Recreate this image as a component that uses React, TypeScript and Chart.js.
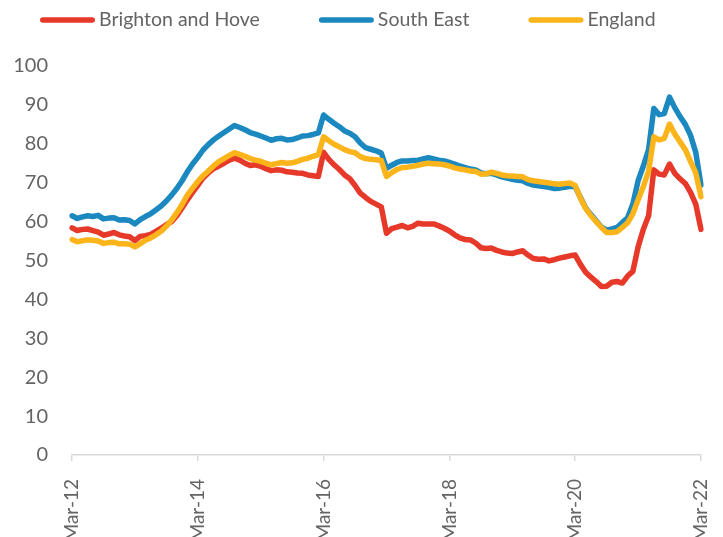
import React, { useEffect, useRef } from "react";
import { Chart, registerables } from "chart.js";

Chart.register(...registerables);

const monthNames = ["Jan", "Feb", "Mar", "Apr", "May", "Jun", "Jul", "Aug", "Sep", "Oct", "Nov", "Dec"];
// Monthly categories Mar-12 .. Mar-22
const categories: string[] = [];
for (let i = 0; i <= 120; i++) {
  const m = (2 + i) % 12;
  const y = 12 + Math.floor((2 + i) / 12);
  categories.push(`${monthNames[m]}-${y}`);
}
const tickLabels = ["Mar-12", "Mar-14", "Mar-16", "Mar-18", "Mar-20", "Mar-22"];
const yTicks = [0, 10, 20, 30, 40, 50, 60, 70, 80, 90, 100];
const seriesNames = ["Brighton and Hove", "South East", "England"];

const brighton = [
  58.4, 57.7, 58.0, 58.1, 57.7, 57.3, 56.5, 56.8, 57.2, 56.6, 56.3, 56.1,
  55.1, 56.2, 56.4, 56.7, 57.5, 58.3, 59.2, 60.0, 61.5, 63.5, 65.6, 67.5,
  69.3, 71.2, 72.5, 73.6, 74.3, 75.0, 75.8, 76.3, 75.8, 75.0, 74.4, 74.6,
  74.2, 73.6, 73.1, 73.3, 73.2, 72.8, 72.7, 72.5, 72.4, 72.0, 71.8, 71.6,
  77.8, 76.0, 74.6, 73.4, 72.0, 71.0, 69.3, 67.3, 66.2, 65.2, 64.5, 63.8,
  57.0, 58.2, 58.6, 59.0, 58.4, 58.8, 59.6, 59.4, 59.4, 59.4, 58.9, 58.3,
  57.6, 56.6, 55.8, 55.4, 55.3, 54.5, 53.3, 53.1, 53.2, 52.6, 52.2, 51.9,
  51.8, 52.2, 52.5, 51.4, 50.5, 50.3, 50.4, 49.9, 50.2, 50.6, 50.9, 51.2,
  51.4, 49.0, 47.0, 45.7, 44.6, 43.3, 43.4, 44.4, 44.6, 44.2, 46.0, 47.2,
  53.5, 58.0, 61.5, 73.3, 72.2, 72.0, 74.8, 72.4, 71.0, 69.8, 67.5, 64.5,
  58.0,
];

const southEast = [
  61.5, 60.8, 61.2, 61.5, 61.3, 61.6, 60.7, 60.9, 61.0, 60.4, 60.5, 60.3,
  59.4, 60.5, 61.3, 62.0, 63.0, 64.0, 65.3, 66.8, 68.5, 70.5, 72.8, 74.8,
  76.5, 78.4, 79.8, 81.0, 82.0, 82.9, 83.8, 84.7, 84.2, 83.6, 82.9, 82.5,
  82.0, 81.5, 80.9, 81.3, 81.4, 81.0, 81.1, 81.5, 82.0, 82.1, 82.4, 82.8,
  87.4, 86.3, 85.3, 84.4, 83.3, 82.7, 81.8, 80.2, 79.0, 78.6, 78.2, 77.6,
  73.7, 74.5, 75.2, 75.6, 75.6, 75.7, 75.8, 76.1, 76.4, 76.1, 75.8, 75.6,
  75.2, 74.8, 74.3, 73.9, 73.5, 73.3, 72.5, 72.3, 72.4, 72.0, 71.5, 71.2,
  70.9, 70.6, 70.5, 69.8, 69.4, 69.2, 69.0, 68.8, 68.5, 68.6, 68.8, 69.1,
  69.0, 66.2, 63.5, 61.8, 60.2, 58.6, 57.8, 58.1, 58.5, 59.8, 61.0, 64.5,
  70.5, 74.3, 78.5, 89.1, 87.5, 87.8, 92.0, 89.3, 87.0, 85.0, 82.2, 77.8,
  69.4,
];

const england = [
  55.4, 54.8, 55.1, 55.3, 55.2, 55.0, 54.4, 54.6, 54.7, 54.3, 54.3, 54.2,
  53.5, 54.3, 55.2, 55.8, 56.6, 57.5, 58.8, 60.4, 62.3, 64.4, 66.8, 68.6,
  70.3, 71.8, 73.0, 74.3, 75.4, 76.2, 77.0, 77.7, 77.3, 76.8, 76.2, 75.8,
  75.5, 75.0, 74.6, 74.9, 75.2, 75.0, 75.1, 75.5, 76.0, 76.3, 76.8, 77.2,
  81.8, 80.8, 79.9, 79.2, 78.5, 78.0, 77.7, 76.7, 76.2, 76.0, 75.9, 75.7,
  71.6, 72.6, 73.4, 73.9, 74.0, 74.2, 74.5, 74.8, 75.0, 74.9, 74.8, 74.6,
  74.3, 73.8, 73.5, 73.3, 73.0, 72.9, 72.2, 72.3, 72.7, 72.4, 72.0, 71.8,
  71.7, 71.6, 71.5, 70.8, 70.5, 70.3, 70.1, 69.9, 69.7, 69.6, 69.8, 69.9,
  69.3, 66.0, 63.4, 61.5, 60.0, 58.5, 57.2, 57.2, 57.4, 58.5, 59.7, 62.0,
  65.6, 69.0, 73.0, 81.8, 81.0, 81.4, 85.1, 82.5, 80.5, 78.5, 75.5, 72.5,
  66.4,
];

const RED = "#E6392A";
const BLUE = "#1B88C0";
const YELLOW = "#FCB41B";
const TEXT = "#646464";
const FONT = "Lato, 'Open Sans', sans-serif";

const legendPlugin = {
  id: "customLegend",
  afterDraw(chart: any) {
    const ctx = chart.ctx as CanvasRenderingContext2D;
    const y = 20;
    let x = 40;
    const lineLen = 55;
    const gapText = 4;
    const gapItem = 59;
    ctx.save();
    ctx.font = `19.5px ${FONT}`;
    ctx.textBaseline = "middle";
    ctx.textAlign = "left";
    chart.data.datasets.forEach((ds: any) => {
      ctx.strokeStyle = ds.borderColor;
      ctx.lineWidth = 5.5;
      ctx.lineCap = "round";
      ctx.beginPath();
      ctx.moveTo(x + 2.75, y);
      ctx.lineTo(x + lineLen - 2.75, y);
      ctx.stroke();
      ctx.fillStyle = TEXT;
      const tx = x + lineLen + gapText;
      ctx.fillText(ds.label, tx, y);
      x = tx + ctx.measureText(ds.label).width + gapItem;
    });
    ctx.restore();
  },
};

export default function App() {
  const ref = useRef<HTMLCanvasElement | null>(null);

  useEffect(() => {
    document.body.style.margin = "0";
    if (!ref.current) return;
    const mk = (label: string, data: number[], color: string, order: number) => ({
      label,
      data,
      borderColor: color,
      backgroundColor: color,
      borderWidth: 5.5,
      pointRadius: 0,
      pointHoverRadius: 0,
      tension: 0,
      order,
      borderJoinStyle: "round" as const,
      borderCapStyle: "round" as const,
    });
    const chart = new Chart(ref.current, {
      type: "line",
      data: {
        labels: categories,
        datasets: [
          mk(seriesNames[0], brighton, RED, 2),
          mk(seriesNames[1], southEast, BLUE, 1),
          mk(seriesNames[2], england, YELLOW, 0),
        ],
      },
      plugins: [legendPlugin],
      options: {
        animation: false,
        responsive: true,
        maintainAspectRatio: false,
        layout: { padding: { top: 66, right: 22, left: 0, bottom: 0 } },
        plugins: {
          tooltip: { enabled: false },
          legend: { display: false },
        },
        scales: {
          x: {
            type: "category",
            offset: false,
            afterBuildTicks: (scale: any) => {
              scale.ticks = scale.ticks.filter((t: any) =>
                tickLabels.includes(categories[t.value])
              );
            },
            afterFit: (scale: any) => {
              scale.height = 105;
              scale.paddingLeft = 0;
              scale.paddingRight = 0;
            },
            grid: {
              display: true,
              drawOnChartArea: false,
              color: "#D9D9D9",
              lineWidth: 1.5,
              tickLength: 6,
            },
            border: { display: true, color: "#D9D9D9", width: 1.5 },
            ticks: {
              autoSkip: false,
              minRotation: 90,
              maxRotation: 90,
              padding: 18,
              color: TEXT,
              font: { family: FONT, size: 19 },
              callback: (v: any) => categories[v as number],
            },
          },
          y: {
            min: 0,
            max: 100,
            afterBuildTicks: (scale: any) => {
              scale.ticks = yTicks.map((v) => ({ value: v }));
            },
            afterFit: (scale: any) => {
              scale.width = 72;
              scale.paddingTop = 0;
              scale.paddingBottom = 0;
            },
            grid: { display: false },
            border: { display: false },
            ticks: {
              padding: 16,
              color: TEXT,
              font: { family: FONT, size: 20 },
            },
          },
        },
      },
    });
    return () => chart.destroy();
  }, []);

  return (
    <div style={{ width: 723, height: 537, overflow: "hidden" }}>
      <div style={{ position: "relative", width: 723, height: 560 }}>
        <canvas ref={ref} />
      </div>
    </div>
  );
}
